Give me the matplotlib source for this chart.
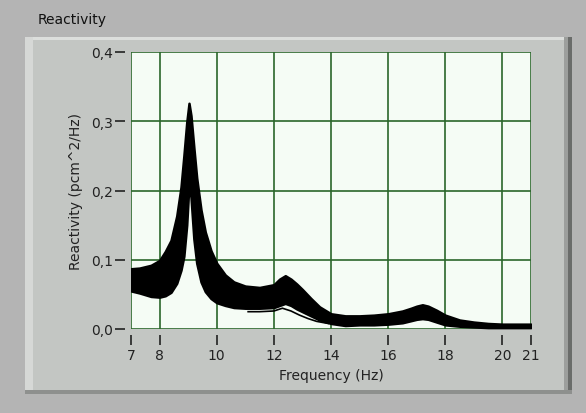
import matplotlib
matplotlib.use("Agg")
import matplotlib.pyplot as plt
from matplotlib.patches import Rectangle

# ---- data ----
freq = [7.0, 7.3, 7.7, 8.0, 8.2, 8.4, 8.6, 8.75, 8.85, 8.95, 9.03, 9.1, 9.2, 9.3,
        9.45, 9.6, 9.8, 10.0, 10.3, 10.6, 11.0, 11.5, 12.0, 12.2, 12.4, 12.6, 12.8,
        13.0, 13.3, 13.6, 14.0, 14.5, 15.0, 15.5, 16.0, 16.5, 16.8, 17.0, 17.2, 17.4,
        17.7, 18.0, 18.5, 19.0, 19.5, 20.0, 20.5, 21.0]
upper = [0.087, 0.088, 0.092, 0.099, 0.112, 0.128, 0.163, 0.205, 0.250, 0.298, 0.326,
         0.308, 0.262, 0.218, 0.172, 0.140, 0.113, 0.095, 0.078, 0.068, 0.062, 0.060,
         0.064, 0.072, 0.077, 0.072, 0.065, 0.057, 0.044, 0.032, 0.022, 0.019, 0.019,
         0.020, 0.022, 0.026, 0.030, 0.033, 0.035, 0.033, 0.027, 0.020, 0.013, 0.010,
         0.008, 0.007, 0.007, 0.007]
lower = [0.055, 0.052, 0.047, 0.046, 0.048, 0.053, 0.066, 0.085, 0.105, 0.150, 0.210,
         0.190, 0.130, 0.095, 0.068, 0.054, 0.044, 0.038, 0.034, 0.031, 0.030, 0.030,
         0.031, 0.034, 0.037, 0.034, 0.029, 0.025, 0.019, 0.013, 0.008, 0.005, 0.006,
         0.006, 0.007, 0.009, 0.012, 0.014, 0.015, 0.014, 0.010, 0.006, 0.004, 0.003,
         0.002, 0.002, 0.002, 0.002]
# lowest single trace, separated from the band between 11 and 14 Hz
out_freq = [11.1, 11.5, 12.0, 12.3, 12.6, 12.9, 13.2, 13.5, 13.9]
out_vals = [0.025, 0.025, 0.026, 0.030, 0.026, 0.020, 0.015, 0.011, 0.008]

xticks = [7, 8, 10, 12, 14, 16, 18, 20, 21]
yticks = [0.0, 0.1, 0.2, 0.3, 0.4]
ylabels = ["0,0", "0,1", "0,2", "0,3", "0,4"]

W, H = 586, 414
fig = plt.figure(figsize=(W / 100, H / 100), dpi=100, facecolor="#b4b4b4")

def frect(x0, y0, x1, y1, color):
    fig.patches.append(Rectangle((x0 / W, 1 - y1 / H), (x1 - x0) / W, (y1 - y0) / H,
                                 transform=fig.transFigure, facecolor=color,
                                 edgecolor="none", zorder=-10))

# raised panel
frect(25, 38, 572, 395, "#c3c6c3")
frect(25, 38, 572, 41, "#dcdedc")        # top highlight
frect(25, 38, 33, 395, "#d6d8d6")        # left highlight
frect(564, 38, 568, 395, "#9c9e9c")      # right shade
frect(568, 38, 572, 395, "#6a6c6a")      # right edge
frect(25, 391, 572, 395, "#8e908e")      # bottom edge

fig.text(38 / W, 1 - 20 / H, "Reactivity", fontsize=10, color="#111111",
         ha="left", va="center")

ax = fig.add_axes([131 / W, 1 - 330 / H, (531 - 131) / W, (330 - 53) / H])
ax.set_zorder(5)
ax.set_facecolor("#f5fcf5")
ax.set_xlim(7, 21)
ax.set_ylim(0, 0.4)

ax.fill_between(freq, lower, upper, color="black", linewidth=1.8, zorder=3)
ax.plot(out_freq, out_vals, color="black", linewidth=1.2, zorder=3)

ax.set_xticks(xticks)
ax.set_xticklabels([str(t) for t in xticks])
ax.set_yticks(yticks)
ax.set_yticklabels(ylabels)

ax.grid(True, color="#2b662b", linewidth=1.2, zorder=1)
ax.set_axisbelow(True)
for s in ax.spines.values():
    s.set_visible(False)
ax.spines["bottom"].set_position(("outward", 4))
ax.spines["left"].set_position(("outward", 4))
ax.tick_params(axis="both", colors="#222222", labelsize=10, length=7, width=1.2)
ax.tick_params(axis="x", pad=3)
ax.tick_params(axis="y", pad=2)

ax.set_xlabel("Frequency (Hz)", fontsize=10, color="#222222", labelpad=4)
ax.set_ylabel("Reactivity (pcm^2/Hz)", fontsize=10, color="#222222", labelpad=6)

fig.savefig("out.png", dpi=100, facecolor=fig.get_facecolor())
